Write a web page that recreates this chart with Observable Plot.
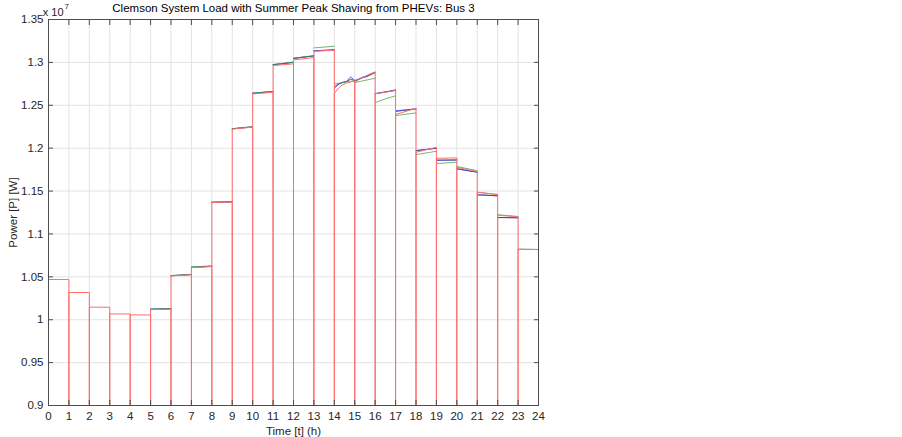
<!DOCTYPE html>
<html>
<head>
<meta charset="utf-8">
<script src="https://cdn.jsdelivr.net/npm/d3@7"></script>
<script src="https://cdn.jsdelivr.net/npm/@observablehq/plot@0.6"></script>
<style>
  html, body { margin: 0; padding: 0; background: #fff; }
  svg { font-family: "Liberation Sans", Arial, sans-serif; }
</style>
</head>
<body>
<div id="chart"></div>
<script>
// ---- Data (power in units of 10^7 W) ----
const titleText = "Clemson System Load with Summer Peak Shaving from PHEVs: Bus 3";
const xLabel = "Time [t] (h)";
const yLabel = "Power [P] [W]";
const exponentBase = "x 10";
const exponentPower = "7";
const xTicks = [0,1,2,3,4,5,6,7,8,9,10,11,12,13,14,15,16,17,18,19,20,21,22,23,24];
const yTicks = [0.9,0.95,1,1.05,1.1,1.15,1.2,1.25,1.3,1.35];
const hours = [0,1,2,3,4,5,6,7,8,9,10,11,12,13,14,15,16,17,18,19,20,21,22,23];
const seriesNames = ["case 1","case 2","case 3","case 4"];
const seriesColors = ["#1a1a1a","#3333ff","#3a9a3a","#ff6e6e"];

// readings within each hour, evenly spaced from start to end of the hour
const blackLoad = [
  [1.0469,1.0468],[1.0318,1.0317],[1.0147,1.0145],[1.0068,1.0067],[1.0057,1.0055],
  [1.0122,1.0127],[1.0513,1.0527],[1.0610,1.0623],[1.1369,1.1374],[1.2226,1.2248],
  [1.2639,1.2659],[1.2972,1.3000],[1.3046,1.3075],[1.3133,1.3146],
  [1.2715,1.2748,1.2766,1.2777,1.2805,1.2788],
  [1.2778,1.2802,1.2822,1.2836,1.2858,1.2880],
  [1.2634,1.2655,1.2675],[1.2428,1.2458],[1.1970,1.1998],[1.1860,1.1862],
  [1.1760,1.1720],[1.1457,1.1445],[1.1192,1.1189],[1.0822,1.0818]
];
const blueLoad = [
  [1.0469,1.0468],[1.0318,1.0317],[1.0147,1.0145],[1.0068,1.0067],[1.0057,1.0055],
  [1.0123,1.0128],[1.0513,1.0527],[1.0610,1.0623],[1.1369,1.1374],[1.2226,1.2249],
  [1.2641,1.2661],[1.2974,1.3002],[1.3048,1.3077],[1.3135,1.3147],
  [1.2695,1.2742,1.2766,1.2778,1.2832,1.2790],
  [1.2790,1.2808,1.2830,1.2840,1.2866,1.2886],
  [1.2636,1.2657,1.2679],[1.2435,1.2459],[1.1973,1.2000],[1.1859,1.1862],
  [1.1759,1.1719],[1.1456,1.1444],[1.1191,1.1188],[1.0822,1.0818]
];
const greenLoad = [
  [1.0469,1.0468],[1.0318,1.0317],[1.0147,1.0145],[1.0068,1.0067],[1.0057,1.0055],
  [1.0124,1.0129],[1.0515,1.0529],[1.0616,1.0628],[1.1370,1.1375],[1.2227,1.2250],
  [1.2642,1.2662],[1.2975,1.3003],[1.3049,1.3078],[1.3169,1.3188],
  [1.2749,1.2756,1.2765,1.2774,1.2780,1.2785],
  [1.2765,1.2775,1.2785,1.2795,1.2805,1.2815],
  [1.2530,1.2575,1.2610],[1.2380,1.2411],[1.1925,1.1964],[1.1821,1.1836],
  [1.1787,1.1737],[1.1487,1.1460],[1.1224,1.1204],[1.0823,1.0819]
];
const redLoad = [
  [1.0469,1.0468],[1.0318,1.0317],[1.0147,1.0145],[1.0068,1.0067],[1.0057,1.0055],
  [1.0118,1.0122],[1.0510,1.0524],[1.0607,1.0620],[1.1367,1.1372],[1.2222,1.2245],
  [1.2632,1.2652],[1.2963,1.2983],[1.3029,1.3056],[1.3129,1.3143],
  [1.2636,1.2700,1.2740,1.2760,1.2772,1.2785],
  [1.2770,1.2800,1.2825,1.2850,1.2870,1.2888],
  [1.2633,1.2652,1.2672],[1.2392,1.2465],[1.1952,1.2010],[1.1882,1.1886],
  [1.1777,1.1727],[1.1486,1.1459],[1.1219,1.1199],[1.0822,1.0818]
];
const seriesData = [blackLoad, blueLoad, greenLoad, redLoad];

// ---- Build step paths ----
const yMin = yTicks[0], yMax = yTicks[yTicks.length - 1];
const frontData = seriesData[seriesData.length - 1];
const topPoints = [];
const stepPoints = [];
seriesData.forEach((arr, si) => {
  hours.forEach((h) => {
    const vals = arr[h];
    const n = vals.length;
    const key = seriesNames[si] + "-" + h;
    // a hour segment identical to the front (red) curve is fully hidden beneath it
    const hidden = si < seriesData.length - 1 && vals.every((v, i) => v === frontData[h][i]);
    stepPoints.push({s: seriesNames[si], x: h, y: yMin});
    vals.forEach((v, i) => {
      const p = {s: seriesNames[si], k: key, x: h + i / (n - 1), y: v};
      if (!hidden) topPoints.push(p);
      stepPoints.push(p);
    });
    stepPoints.push({s: seriesNames[si], x: h + 1, y: yMin});
  });
});
const lastName = seriesNames[seriesNames.length - 1];
const frontStep = stepPoints.filter(d => d.s === lastName);
const backTops = topPoints.filter(d => d.s !== lastName);

const fmtY = d => String(+d.toFixed(2));

const chart = Plot.plot({
  width: 902,
  height: 437,
  marginLeft: 48,
  marginRight: 364,
  marginTop: 19,
  marginBottom: 32,
  style: {fontFamily: "'Liberation Sans', Arial, sans-serif", fontSize: "11px", color: "#262626", background: "#fff"},
  x: {domain: [xTicks[0], xTicks[xTicks.length - 1]]},
  y: {domain: [yMin, yMax]},
  color: {type: "ordinal", domain: seriesNames, range: seriesColors},
  marks: [
    Plot.gridX(xTicks, {stroke: "#e3e3e3", strokeOpacity: 1}),
    Plot.gridY(yTicks, {stroke: "#e3e3e3", strokeOpacity: 1}),
    Plot.line(backTops, {x: "x", y: "y", z: "k", stroke: "s", strokeWidth: 0.8, strokeOpacity: 0.9}),
    Plot.line(frontStep, {x: "x", y: "y", stroke: "s", strokeWidth: 1, strokeOpacity: 1}),
    Plot.frame({stroke: "#4d4d4d"}),
    // tick labels
    Plot.axisX(xTicks, {anchor: "bottom", tickSize: 0, tickPadding: 6, tickFormat: d => String(d), fontSize: 11.5, label: xLabel, labelAnchor: "center", labelArrow: "none", labelOffset: 29}),
    Plot.axisY(yTicks, {anchor: "left", tickSize: 0, tickPadding: 5, tickFormat: fmtY, fontSize: 11.5, label: yLabel, labelAnchor: "center", labelArrow: "none", labelOffset: 40}),
    // inward ticks on all four sides
    Plot.axisX(xTicks, {anchor: "bottom", tickSize: -5, tickFormat: () => "", label: null, stroke: "#4d4d4d"}),
    Plot.axisX(xTicks, {anchor: "top", tickSize: -5, tickFormat: () => "", label: null, stroke: "#4d4d4d"}),
    Plot.axisY(yTicks, {anchor: "left", tickSize: -5, tickFormat: () => "", label: null, stroke: "#4d4d4d"}),
    Plot.axisY(yTicks, {anchor: "right", tickSize: -5, tickFormat: () => "", label: null, stroke: "#4d4d4d"}),
    // title and exponent
    Plot.text([titleText], {frameAnchor: "top", lineAnchor: "middle", dy: -11, text: d => d, fontSize: 11.5, fill: "#000"}),
    Plot.text([exponentBase], {frameAnchor: "top-left", lineAnchor: "middle", dy: -7, dx: 15, text: d => d, textAnchor: "end", fontSize: 11, fill: "#262626"}),
    Plot.text([exponentPower], {frameAnchor: "top-left", lineAnchor: "middle", dy: -13, dx: 16, text: d => d, textAnchor: "start", fontSize: 8, fill: "#262626"})
  ]
});
document.getElementById("chart").appendChild(chart);
</script>
</body>
</html>
